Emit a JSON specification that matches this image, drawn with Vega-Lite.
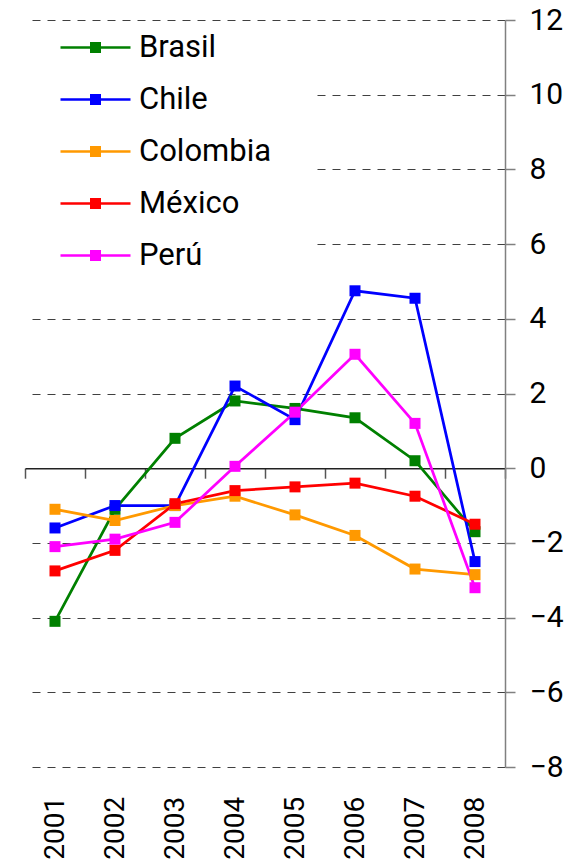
{
  "$schema": "https://vega.github.io/schema/vega-lite/v6.json",
  "autosize": "none",
  "width": 480,
  "height": 747,
  "padding": {"left": 25, "top": 20, "right": 75, "bottom": 100},
  "config": {"view": {"stroke": null}},
  "data": {"values": [
    {"year": "2001", "country": "Brasil", "value": -4.1},
    {"year": "2002", "country": "Brasil", "value": -1.1},
    {"year": "2003", "country": "Brasil", "value": 0.8},
    {"year": "2004", "country": "Brasil", "value": 1.8},
    {"year": "2005", "country": "Brasil", "value": 1.6},
    {"year": "2006", "country": "Brasil", "value": 1.35},
    {"year": "2007", "country": "Brasil", "value": 0.2},
    {"year": "2008", "country": "Brasil", "value": -1.7},
    {"year": "2001", "country": "Chile", "value": -1.6},
    {"year": "2002", "country": "Chile", "value": -1.0},
    {"year": "2003", "country": "Chile", "value": -1.0},
    {"year": "2004", "country": "Chile", "value": 2.2},
    {"year": "2005", "country": "Chile", "value": 1.3},
    {"year": "2006", "country": "Chile", "value": 4.75},
    {"year": "2007", "country": "Chile", "value": 4.55},
    {"year": "2008", "country": "Chile", "value": -2.5},
    {"year": "2001", "country": "Colombia", "value": -1.1},
    {"year": "2002", "country": "Colombia", "value": -1.4},
    {"year": "2003", "country": "Colombia", "value": -1.0},
    {"year": "2004", "country": "Colombia", "value": -0.75},
    {"year": "2005", "country": "Colombia", "value": -1.25},
    {"year": "2006", "country": "Colombia", "value": -1.8},
    {"year": "2007", "country": "Colombia", "value": -2.7},
    {"year": "2008", "country": "Colombia", "value": -2.85},
    {"year": "2001", "country": "México", "value": -2.75},
    {"year": "2002", "country": "México", "value": -2.2},
    {"year": "2003", "country": "México", "value": -0.95},
    {"year": "2004", "country": "México", "value": -0.6},
    {"year": "2005", "country": "México", "value": -0.5},
    {"year": "2006", "country": "México", "value": -0.4},
    {"year": "2007", "country": "México", "value": -0.75},
    {"year": "2008", "country": "México", "value": -1.5},
    {"year": "2001", "country": "Perú", "value": -2.1},
    {"year": "2002", "country": "Perú", "value": -1.9},
    {"year": "2003", "country": "Perú", "value": -1.45},
    {"year": "2004", "country": "Perú", "value": 0.05},
    {"year": "2005", "country": "Perú", "value": 1.5},
    {"year": "2006", "country": "Perú", "value": 3.05},
    {"year": "2007", "country": "Perú", "value": 1.2},
    {"year": "2008", "country": "Perú", "value": -3.2}
  ]},
  "encoding": {
    "x": {
      "field": "year", "type": "ordinal",
      "scale": {"type": "band", "paddingInner": 0, "paddingOuter": 0},
      "axis": {
        "title": null, "orient": "bottom", "offset": -298.8,
        "domain": true, "domainColor": "#222222", "domainWidth": 1.5,
        "ticks": true, "tickBand": "extent", "tickSize": 10, "tickColor": "#555555", "tickWidth": 1.5,
        "labelAngle": 270, "labelPadding": 318, "labelFont": "Roboto", "labelFontSize": 28, "labelColor": "#000000",
        "grid": false
      }
    },
    "y": {
      "field": "value", "type": "quantitative",
      "scale": {"domain": [-8, 12], "nice": false, "zero": false},
      "axis": {
        "title": null, "orient": "right", "values": [-8, -6, -4, -2, 0, 2, 4, 6, 8, 10, 12],
        "grid": true, "gridDash": [8, 7], "gridColor": "#404040", "gridWidth": 1,
        "domainColor": "#808080", "domainWidth": 1.5,
        "tickColor": "#808080", "tickSize": 10, "tickWidth": 1.5,
        "labelFont": "Roboto", "labelFontSize": 30, "labelColor": "#000000", "labelPadding": 14
      }
    },
    "color": {
      "field": "country", "type": "nominal",
      "scale": {"domain": ["Brasil", "Chile", "Colombia", "México", "Perú"], "range": ["#008000", "#0000FF", "#FF9900", "#FF0000", "#FF00FF"]},
      "legend": {
        "orient": "none", "legendX": 0, "legendY": 4,
        "title": " ", "titleOrient": "right", "titlePadding": 37, "titleFontSize": 10,
        "fillColor": "#FFFFFF", "strokeColor": null,
        "symbolType": "M-3.5,-0.125H3.5V0.125H-3.5Z M-0.55,-0.55H0.55V0.55H-0.55Z",
        "symbolSize": 400,
        "symbolStrokeWidth": 0,
        "symbolOffset": 47,
        "labelOffset": 28,
        "labelFont": "Roboto", "labelFontSize": 31, "labelColor": "#000000",
        "rowPadding": 20, "padding": 8,
        "encode": {"symbols": {"update": {"fill": {"scale": "color", "field": "value"}, "stroke": {"value": "transparent"}, "opacity": {"value": 1}}}}
      }
    }
  },
  "layer": [
    {"mark": {"type": "line", "strokeWidth": 2.75}},
    {"mark": {"type": "point", "shape": "square", "filled": true, "size": 121, "opacity": 1}}
  ]
}
